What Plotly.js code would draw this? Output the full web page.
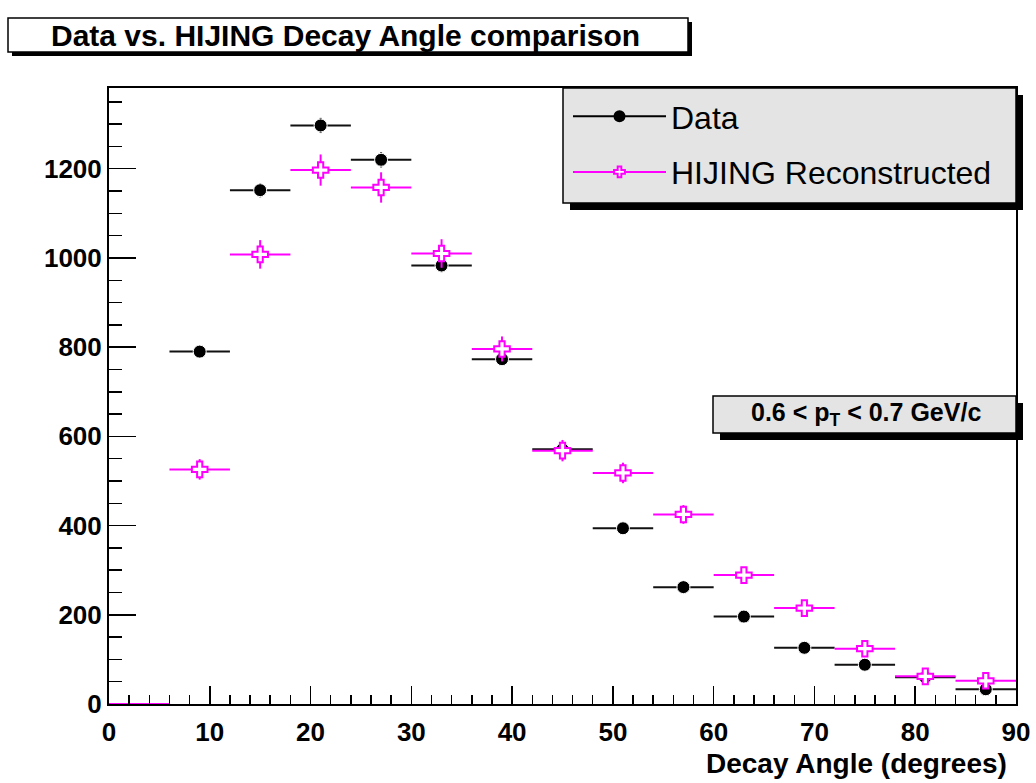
<!DOCTYPE html>
<html>
<head>
<meta charset="utf-8">
<script src="https://cdn.plot.ly/plotly-3.0.1.min.js"></script>
<style>
  html, body { margin: 0; padding: 0; background: #ffffff; }
  #plot { width: 1036px; height: 783px; }
</style>
</head>
<body>
<div id="plot"></div>
<script>
// Decay angle bins (centres, degrees), 6 degrees wide
const binCenters = [3, 9, 15, 21, 27, 33, 39, 45, 51, 57, 63, 69, 75, 81, 87];
const binHalfWidth = 3;

// Measured data
const dataCounts = [0, 790, 1152, 1297, 1220, 983, 773, 571, 394, 262, 196, 126, 88, 60, 33];
const dataErrors = [0, 13, 16, 17, 17, 15, 13, 11, 9, 7, 6, 5, 4, 3, 3];

// HIJING reconstructed
const hijingCounts = [0, 526, 1008, 1197, 1158, 1010, 796, 568, 518, 425, 289, 215, 124, 62, 52];
const hijingErrors = [0, 23, 32, 35, 34, 32, 28, 24, 23, 21, 17, 15, 11, 8, 7];

// Axis ticks
const xTickVals = [0, 10, 20, 30, 40, 50, 60, 70, 80, 90];
const xTickLabels = ['0', '10', '20', '30', '40', '50', '60', '70', '80', '90'];
const yTickVals = [0, 200, 400, 600, 800, 1000, 1200];
const yTickLabels = ['0', '200', '400', '600', '800', '1000', '1200'];

const seriesNames = ['Data', 'HIJING Reconstructed'];
const xTitle = 'Decay Angle (degrees)';
const chartTitle = 'Data vs. HIJING Decay Angle comparison';
const ptLabel = '0.6 &lt; p<sub>T</sub> &lt; 0.7 GeV/c';

const FONT = 'Liberation Sans, Arial, Helvetica, sans-serif';
const MAGENTA = '#ff00ff';

// Page geometry (pixels) used to place boxes in paper coordinates
const W = 1036, H = 783;
const M = { l: 109, r: 20, t: 88, b: 79 };
const PW = W - M.l - M.r, PH = H - M.t - M.b;
const fx = px => (px - M.l) / PW;
const fy = py => (H - M.b - py) / PH;

// empty bins get no marker, only the horizontal bin bar
const sizeFor = (vals, s) => vals.map(v => v > 0 ? s : 0);
const bold = arr => arr.map(t => '<b>' + t + '</b>');

const traces = [
  {
    x: binCenters, y: dataCounts, type: 'scatter', mode: 'markers',
    name: seriesNames[0], showlegend: false, cliponaxis: true,
    marker: { symbol: 'circle', color: '#000000', opacity: 1, size: sizeFor(dataCounts, 13) },
    error_x: { type: 'constant', value: binHalfWidth, width: 0, thickness: 2, color: '#111111' },
    error_y: { type: 'data', array: dataErrors, visible: true, width: 0, thickness: 2, color: '#111111' }
  },
  {
    x: binCenters, y: hijingCounts, type: 'scatter', mode: 'markers',
    name: seriesNames[1], showlegend: false, cliponaxis: true,
    marker: { symbol: 'cross', color: '#ffffff', opacity: 1, size: sizeFor(hijingCounts, 13),
              line: { color: MAGENTA, width: 2 } },
    error_x: { type: 'constant', value: binHalfWidth, width: 0, thickness: 2, color: MAGENTA },
    error_y: { type: 'data', array: hijingErrors, visible: true, width: 0, thickness: 2, color: MAGENTA }
  },
  // legend entries (line + marker samples)
  {
    x: [null], y: [null], type: 'scatter', mode: 'lines+markers', name: seriesNames[0],
    legendgroup: 'a', line: { color: '#000000', width: 2 },
    marker: { symbol: 'circle', color: '#000000', size: 12 }
  },
  {
    x: [null], y: [null], type: 'scatter', mode: 'lines+markers', name: seriesNames[1],
    legendgroup: 'b', line: { color: MAGENTA, width: 2 },
    marker: { symbol: 'cross', color: '#ffffff', size: 9, line: { color: MAGENTA, width: 2 } }
  }
];

function box(x0, y0, x1, y1, fill, shadow) {
  const out = [];
  if (shadow) {
    out.push({ type: 'rect', xref: 'paper', yref: 'paper', layer: 'above',
      x0: fx(x0 + shadow), x1: fx(x1 + shadow), y0: fy(y0 + shadow), y1: fy(y1 + shadow),
      fillcolor: '#000000', line: { width: 0 } });
  }
  out.push({ type: 'rect', xref: 'paper', yref: 'paper', layer: 'above',
    x0: fx(x0), x1: fx(x1), y0: fy(y0), y1: fy(y1),
    fillcolor: fill, line: { color: '#000000', width: 1.5 } });
  return out;
}

const shapes = [].concat(
  box(8, 18, 688, 52, '#ffffff', 4),
  box(563, 88, 1016, 203, '#e4e4e4', 7),
  box(713, 396, 1016, 433, '#e4e4e4', 7)
);

const tickFont = { family: FONT, size: 26, color: '#000000' };

const layout = {
  width: W, height: H,
  margin: M,
  paper_bgcolor: '#ffffff', plot_bgcolor: '#ffffff',
  font: { family: FONT, color: '#000000' },
  showlegend: true,
  legend: {
    x: fx(568), y: fy(89), xanchor: 'left', yanchor: 'top',
    bgcolor: 'rgba(0,0,0,0)', borderwidth: 0,
    font: { family: FONT, size: 32, color: '#000000' },
    itemwidth: 93, tracegroupgap: 11, traceorder: 'grouped'
  },
  xaxis: {
    range: [0, 90], tickmode: 'array', tickvals: xTickVals, ticktext: bold(xTickLabels),
    ticks: 'inside', ticklen: 18, tickwidth: 1.5, tickcolor: '#000000',
    minor: { tickmode: 'linear', tick0: 0, dtick: 2, ticks: 'inside', ticklen: 9, tickwidth: 1.5, tickcolor: '#000000' },
    showline: true, mirror: true, linewidth: 2, linecolor: '#000000',
    showgrid: false, zeroline: false, ticklabelstandoff: 4,
    tickfont: tickFont
  },
  yaxis: {
    range: [0, 1381], tickmode: 'array', tickvals: yTickVals, ticktext: bold(yTickLabels),
    ticks: 'inside', ticklen: 27, tickwidth: 1.5, tickcolor: '#000000',
    minor: { tickmode: 'linear', tick0: 0, dtick: 50, ticks: 'inside', ticklen: 13, tickwidth: 1.5, tickcolor: '#000000' },
    showline: true, mirror: true, linewidth: 2, linecolor: '#000000',
    showgrid: false, zeroline: false,
    tickfont: tickFont
  },
  shapes: shapes,
  annotations: [
    { text: '<b>' + chartTitle + '</b>', xref: 'paper', yref: 'paper', x: fx(345), y: fy(36),
      xanchor: 'center', yanchor: 'middle', showarrow: false,
      font: { family: FONT, size: 30, color: '#000000' } },
    { text: '<b>' + xTitle + '</b>', xref: 'paper', yref: 'paper', x: fx(1009), y: fy(763),
      xanchor: 'right', yanchor: 'middle', showarrow: false,
      font: { family: FONT, size: 28, color: '#000000' } },
    { text: '<b>' + ptLabel + '</b>', xref: 'paper', yref: 'paper', x: fx(866), y: fy(414),
      xanchor: 'center', yanchor: 'middle', showarrow: false,
      font: { family: FONT, size: 25, color: '#000000' } }
  ]
};

Plotly.newPlot('plot', traces, layout, { displayModeBar: false, staticPlot: true });
</script>
</body>
</html>
